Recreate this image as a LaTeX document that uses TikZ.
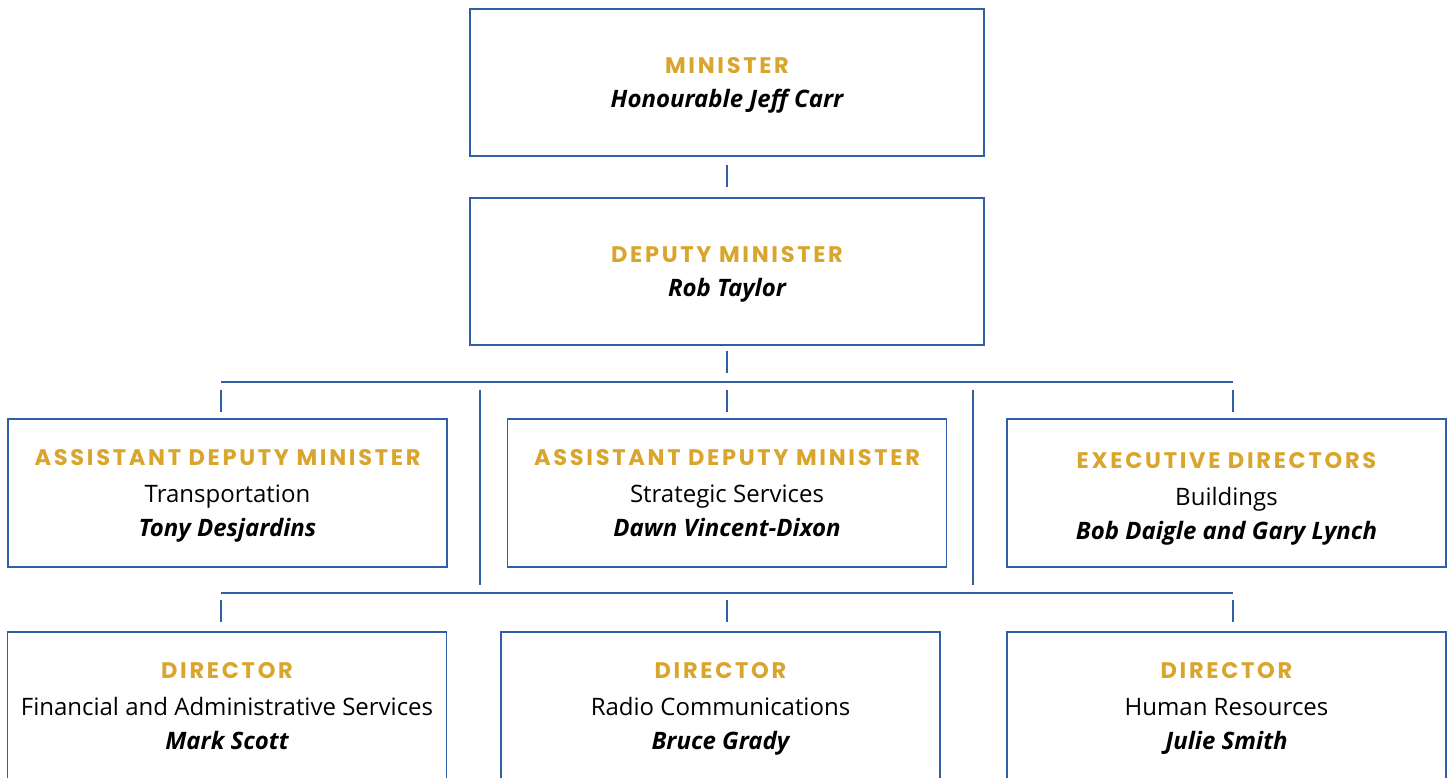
\documentclass[tikz,border=0pt]{standalone}
\usepackage{fontspec}
\setmainfont{Open Sans}
\newfontfamily\headfont[LetterSpace=12]{Poppins}
\definecolor{orgblue}{RGB}{46,95,168}
\definecolor{orggold}{RGB}{218,165,44}

\tikzset{
  unit/.style={draw=orgblue, line width=0.8pt, align=center, inner sep=0pt,
    font=\fontsize{18}{25.5}\selectfont},
  topunit/.style={unit, minimum width=385.5pt, minimum height=110.25pt},
  rowunit/.style={unit, minimum width=329.25pt, minimum height=111pt},
  link/.style={draw=orgblue, line width=0.8pt},
}
% struts keep every box's lines at the same heights
\newcommand{\post}[1]{{\rule{0pt}{16.5pt}\headfont\fontsize{16.9}{25.5}\selectfont\bfseries\color{orggold}#1}}
\newcommand{\who}[1]{{\rule[-5pt]{0pt}{5pt}\bfseries\itshape #1}}

\begin{document}
\begin{tikzpicture}[x=0.75pt,y=-0.75pt]
  \useasboundingbox (0,0) rectangle (1453,778);
  \clip (0,0) rectangle (1453,778);
  % minister and deputy
  \node[topunit] (min) at (727,82.5) {\post{MINISTER}\\ \who{Honourable Jeff Carr}};
  \node[topunit] (dep) at (727,271.5) {\post{DEPUTY MINISTER}\\ \who{Rob Taylor}};
  % assistant deputies
  \node[rowunit] (adm1) at (227.5,493) {\post{ASSISTANT DEPUTY MINISTER}\\[2pt] Transportation\\ \who{Tony Desjardins}};
  \node[rowunit] (adm2) at (727,493) {\post{ASSISTANT DEPUTY MINISTER}\\[2pt] Strategic Services\\ \who{Dawn Vincent-Dixon}};
  \node[rowunit] (exd) at (1226.5,493) {\post{\rule{0pt}{21pt}EXECUTIVE DIRECTORS}\\[2pt] Buildings\\ \who{Bob Daigle and Gary Lynch}};
  % directors
  \node[rowunit] (dir1) at (227,706) {\post{DIRECTOR}\\[2pt] Financial and Administrative Services\\ \who{Mark Scott}};
  \node[rowunit] (dir2) at (720.5,706) {\post{DIRECTOR}\\[2pt] Radio Communications\\ \who{Bruce Grady}};
  \node[rowunit] (dir3) at (1226.5,706) {\post{DIRECTOR}\\[2pt] Human Resources\\ \who{Julie Smith}};

  % bus lines
  \coordinate (busA) at (727,382);
  \coordinate (busAl) at (221,382);
  \coordinate (busAr) at (1233,382);
  \coordinate (busB) at (727,593);
  \coordinate (busBl) at (221,593);
  \coordinate (busBr) at (1233,593);
  \draw[link] (busAl) -- (busAr);
  \draw[link] (busBl) -- (busBr);

  \draw[link, shorten <=6pt, shorten >=8pt] (min) -- (dep);
  \draw[link, shorten <=3.75pt, shorten >=6.75pt] (dep) -- (busA);
  \foreach \c in {busAl,busA,busAr}
    \draw[link, shorten <=6pt, shorten >=4.5pt] (\c) -- (\c |- adm1.north);
  \foreach \c in {busBl,busB,busBr}
    \draw[link, shorten <=5.25pt, shorten >=6.75pt] (\c) -- (\c |- dir1.north);
  % separators between the assistant deputies
  \draw[link, shorten <=6pt, shorten >=6pt] (busA -| 480,0) -- (busB -| 480,0);
  \draw[link, shorten <=6pt, shorten >=6pt] (busA -| 973,0) -- (busB -| 973,0);
\end{tikzpicture}
\end{document}
